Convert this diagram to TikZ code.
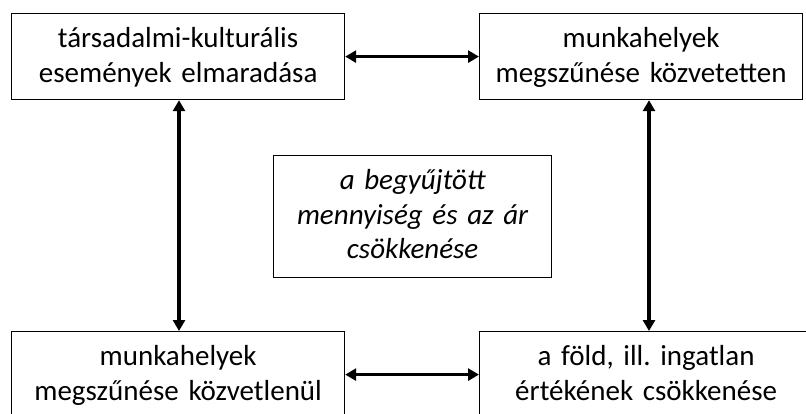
\documentclass[tikz,border=0pt]{standalone}
\usepackage{fontspec}
\setmainfont{Carlito}
\usetikzlibrary{arrows.meta}
\frenchspacing

\tikzset{
  box/.style={draw=black, line width=1.2pt, inner sep=0pt, anchor=north west,
    align=center, text height=34pt,
    font=\fontsize{29}{35}\selectfont},
  biarrow/.style={line width=3.6pt, {Triangle[length=11pt,width=12pt]}-{Triangle[length=11pt,width=12pt]}}
}

\begin{document}
\begin{tikzpicture}[x=1pt, y=-1pt]
  \useasboundingbox (0,0) rectangle (806,414);
  \clip (0,0) rectangle (806,414);

  % the four effects in the corners
  \node[box, text width=333pt, text depth=52pt] (tl) at (11,13)
    {társadalmi-kulturális\\események elmaradása};
  \node[box, text width=323pt, text depth=52pt] (tr) at (479,13)
    {munkahelyek\\megszűnése közvetetten};
  \node[box, text width=333pt, text depth=52pt] (bl) at (11,331)
    {munkahelyek\\megszűnése közvetlenül};
  \node[box, text width=333pt, text depth=52pt] (br) at (479,331)
    {a föld, ill. ingatlan\\értékének csökkenése};

  % the central cause
  \node[box, text width=278pt, text depth=88pt,
        font=\fontsize{29}{34.5}\selectfont\itshape] (c) at (273,155)
    {a begyűjtött\\mennyiség és az ár\\csökkenése};

  % two-way links between the corner boxes
  \coordinate (lv) at (179,0);
  \coordinate (rv) at (649,0);
  \draw[biarrow] (tl.east) -- (tr.west);
  \draw[biarrow] (bl.east) -- (br.west);
  \draw[biarrow] (tl.south -| lv) -- (bl.north -| lv);
  \draw[biarrow] (tr.south -| rv) -- (br.north -| rv);
\end{tikzpicture}
\end{document}
